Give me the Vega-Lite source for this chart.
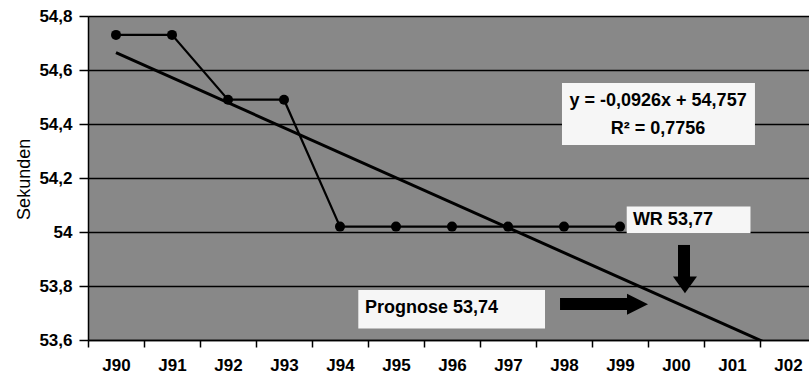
{
  "$schema": "https://vega.github.io/schema/vega-lite/v6.json",
  "width": 721,
  "height": 324,
  "autosize": {"type": "none"},
  "padding": {"left": 88, "top": 16, "right": 0, "bottom": 37},
  "background": "white",
  "config": {"view": {"fill": "#888888", "stroke": null}, "font": "Liberation Sans"},
  "datasets": {
    "series": [
      {"x": 1, "label": "J90", "y": 54.73},
      {"x": 2, "label": "J91", "y": 54.73},
      {"x": 3, "label": "J92", "y": 54.49},
      {"x": 4, "label": "J93", "y": 54.49},
      {"x": 5, "label": "J94", "y": 54.02},
      {"x": 6, "label": "J95", "y": 54.02},
      {"x": 7, "label": "J96", "y": 54.02},
      {"x": 8, "label": "J97", "y": 54.02},
      {"x": 9, "label": "J98", "y": 54.02},
      {"x": 10, "label": "J99", "y": 54.02}
    ],
    "trend": [
      {"x": 1, "y": 54.664},
      {"x": 13, "y": 53.553}
    ],
    "boxes": [
      {"x": 8.964, "x2": 12.41, "y": 54.552, "y2": 54.322},
      {"x": 10.12, "x2": 12.33, "y": 54.094, "y2": 53.995},
      {"x": 5.327, "x2": 8.661, "y": 53.785, "y2": 53.643}
    ],
    "eq": [
      {"x": 10.68, "y": 54.485, "t": "y = -0,0926x + 54,757"},
      {"x": 10.68, "y": 54.381, "t": "R² = 0,7756"}
    ],
    "notes": [
      {"x": 10.23, "y": 54.044, "t": "WR 53,77"},
      {"x": 5.446, "y": 53.719, "t": "Prognose 53,74"}
    ],
    "ytitle": [{"x": -0.625, "y": 54.195, "t": "Sekunden"}],
    "hshaft": [{"x": 8.929, "x2": 10.18, "y": 53.733}],
    "vshaft": [{"x": 11.143, "y": 53.952, "y2": 53.815}],
    "rhead": [{"x": 10.313, "y": 53.732}],
    "dhead": [{"x": 11.16, "y": 53.804}]
  },
  "encoding": {
    "x": {
      "field": "x", "type": "quantitative",
      "scale": {"domain": [0.5, 13.375], "nice": false, "zero": false},
      "axis": {
        "values": [0.5, 1.5, 2.5, 3.5, 4.5, 5.5, 6.5, 7.5, 8.5, 9.5, 10.5, 11.5, 12.5],
        "labelExpr": "['J90','J91','J92','J93','J94','J95','J96','J97','J98','J99','J00','J01','J02'][floor(datum.value)]",
        "labelOffset": 28,
        "title": null,
        "grid": false,
        "domainColor": "black", "domainWidth": 1.5,
        "tickColor": "black", "tickSize": 7, "tickWidth": 1.5,
        "labelFont": "Liberation Sans", "labelFontSize": 17, "labelFontWeight": "bold", "labelColor": "black",
        "labelPadding": 10, "labelOverlap": false, "labelBound": false, "labelFlush": false
      }
    },
    "y": {
      "field": "y", "type": "quantitative",
      "scale": {"domain": [53.6, 54.8], "nice": false, "zero": false},
      "axis": {
        "values": [53.6, 53.8, 54, 54.2, 54.4, 54.6, 54.8],
        "labelExpr": "replace(toString(datum.value), '.', ',')",
        "title": null,
        "grid": true, "gridColor": "black", "gridWidth": 1.3, "gridOpacity": 1,
        "domainColor": "black", "domainWidth": 1.5,
        "tickColor": "black", "tickSize": 9, "tickWidth": 1.5,
        "labelFont": "Liberation Sans", "labelFontSize": 17, "labelFontWeight": "bold", "labelColor": "black",
        "labelPadding": 7, "labelFlush": false, "labelBound": false, "labelOverlap": false
      }
    }
  },
  "layer": [
    {"data": {"name": "trend"}, "mark": {"type": "line", "color": "black", "strokeWidth": 3, "clip": true}},
    {"data": {"name": "series"}, "mark": {"type": "line", "color": "black", "strokeWidth": 2.2}},
    {"data": {"name": "series"}, "mark": {"type": "point", "filled": true, "color": "black", "size": 100, "opacity": 1}},
    {"data": {"name": "boxes"}, "mark": {"type": "rect", "fill": "#f6f6f6"},
      "encoding": {"x2": {"field": "x2"}, "y2": {"field": "y2"}}},
    {"data": {"name": "eq"}, "mark": {"type": "text", "align": "center", "baseline": "middle", "fontSize": 18, "fontWeight": "bold", "color": "black", "font": "Liberation Sans"},
      "encoding": {"text": {"field": "t"}}},
    {"data": {"name": "notes"}, "mark": {"type": "text", "align": "left", "baseline": "middle", "fontSize": 18, "fontWeight": "bold", "color": "black", "font": "Liberation Sans"},
      "encoding": {"text": {"field": "t"}}},
    {"data": {"name": "ytitle"}, "mark": {"type": "text", "align": "center", "baseline": "middle", "angle": 270, "fontSize": 18, "fontWeight": "normal", "color": "black", "font": "Liberation Sans"},
      "encoding": {"text": {"field": "t"}}},
    {"data": {"name": "hshaft"}, "mark": {"type": "rule", "color": "black", "strokeWidth": 12, "strokeCap": "butt"},
      "encoding": {"x2": {"field": "x2"}}},
    {"data": {"name": "vshaft"}, "mark": {"type": "rule", "color": "black", "strokeWidth": 12, "strokeCap": "butt"},
      "encoding": {"y2": {"field": "y2"}}},
    {"data": {"name": "rhead"}, "mark": {"type": "point", "shape": "M-1,-1L1,0L-1,1Z", "size": 441, "filled": true, "color": "black", "opacity": 1}},
    {"data": {"name": "dhead"}, "mark": {"type": "point", "shape": "M-1,-0.7L1,-0.7L0,0.7Z", "size": 576, "filled": true, "color": "black", "opacity": 1}}
  ]
}
